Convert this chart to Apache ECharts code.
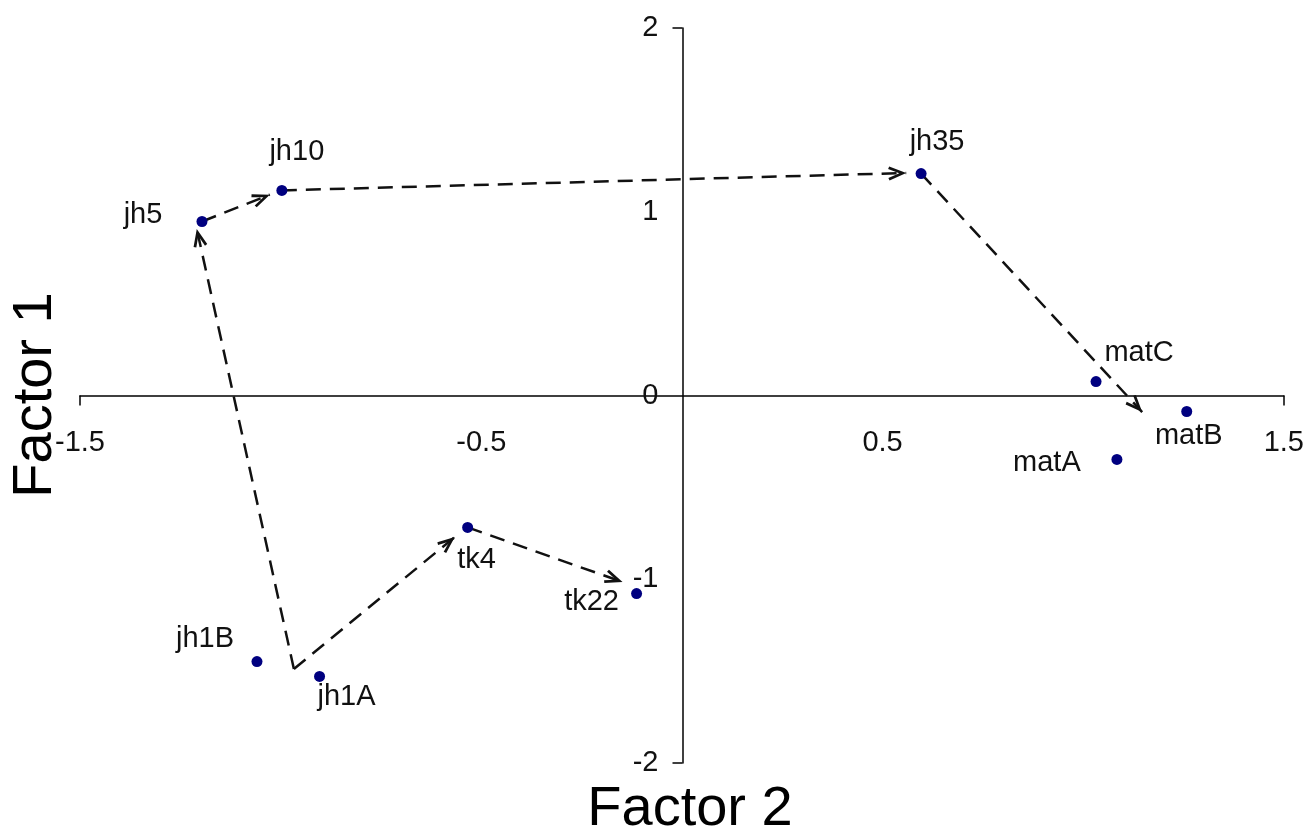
<!DOCTYPE html>
<html>
<head>
<meta charset="utf-8">
<title>Factor plot</title>
<script src="https://cdn.jsdelivr.net/npm/echarts@6/dist/echarts.min.js"></script>
<style>
  html, body { margin: 0; padding: 0; background: #fff; }
  #factorChart { width: 1307px; height: 838px; }
</style>
</head>
<body>
<div id="factorChart"></div>
<script>
// samples: Factor 2 (x) / Factor 1 (y)
const sampleNames = ['jh5', 'jh10', 'jh35', 'matC', 'matB', 'matA', 'tk4', 'tk22', 'jh1B', 'jh1A']
const factor2 = [-1.196, -0.997, 0.596, 1.032, 1.258, 1.084, -0.534, -0.113, -1.059, -0.903]
const factor1 = [0.947, 1.116, 1.208, 0.076, -0.087, -0.348, -0.718, -1.078, -1.448, -1.529]

// dashed arrows, [factor2, factor1] start -> end
const arrowFrom = [
  [-0.967, -1.488],
  [-1.196, 0.947],
  [-0.997, 1.116],
  [0.596, 1.208],
  [-0.967, -1.488],
  [-0.534, -0.718]
]
const arrowTo = [
  [-1.209, 0.906],
  [-1.027, 1.093],
  [0.559, 1.211],
  [1.147, -0.090],
  [-0.566, -0.770],
  [-0.148, -1.015]
]

const xTicks = [-1.5, 1.5]
const yTicks = [-2, 2]

// where each name sits, relative to its dot (px)
const labelShift = {
  jh5: [-59, -6],
  jh10: [15, -38],
  jh35: [16, -32],
  matC: [43, -29],
  matB: [2, 25],
  matA: [-70, 4],
  tk4: [9, 33],
  tk22: [-45, 8],
  jh1B: [-52, -23],
  jh1A: [27, 21]
}

const font = 'Liberation Sans, Arial, sans-serif'

// plot area; axes cross at 0,0 so they are pushed inward with offset
const gridBox = { left: 80, right: 22, top: 28, bottom: 75 }
const plotW = 1307 - gridBox.left - gridBox.right
const plotH = 838 - gridBox.top - gridBox.bottom
const xMin = -1.5, xMax = 1.5, yMin = -2, yMax = 2
const yAxisShift = -plotW * (0 - xMin) / (xMax - xMin)
const xAxisShift = -plotH * (0 - yMin) / (yMax - yMin)

let myChart = echarts.init(document.getElementById('factorChart'))

let points = sampleNames.map((name, i) => ({
  name: name,
  value: [factor2[i], factor1[i]],
  label: { offset: labelShift[name] }
}))

let arrows = arrowFrom.map((p, i) => [{ coord: p }, { coord: arrowTo[i] }])

let options = {
  animation: false,
  grid: gridBox,
  xAxis: {
    type: 'value',
    min: xMin,
    max: xMax,
    interval: 1,
    offset: xAxisShift,
    axisLine: { onZero: false, lineStyle: { color: '#000', width: 1.5 } },
    axisTick: { show: true, customValues: xTicks, length: 10, lineStyle: { color: '#000', width: 1.5 } },
    axisLabel: { margin: 33, fontSize: 29, color: '#111', fontFamily: font },
    splitLine: { show: false }
  },
  yAxis: {
    type: 'value',
    min: yMin,
    max: yMax,
    interval: 1,
    offset: yAxisShift,
    axisLine: { onZero: false, lineStyle: { color: '#000', width: 1.5 } },
    axisTick: { show: true, customValues: yTicks, length: 10, lineStyle: { color: '#000', width: 1.5 } },
    axisLabel: { margin: 24, fontSize: 29, color: '#111', fontFamily: font },
    splitLine: { show: false }
  },
  graphic: [
    {
      type: 'text',
      x: 690,
      y: 810,
      style: {
        text: 'Factor 2',
        font: '56px ' + font,
        fill: '#000',
        align: 'center',
        verticalAlign: 'middle'
      }
    },
    {
      type: 'text',
      x: 36,
      y: 395,
      rotation: Math.PI / 2,
      style: {
        text: 'Factor 1',
        font: '56px ' + font,
        fill: '#000',
        align: 'center',
        verticalAlign: 'middle'
      }
    }
  ],
  series: [
    {
      type: 'scatter',
      z: 3,
      symbol: 'circle',
      symbolSize: 11,
      itemStyle: { color: '#000080', opacity: 1 },
      label: {
        show: true,
        position: 'inside',
        formatter: '{b}',
        fontSize: 29,
        color: '#111',
        fontFamily: font
      },
      emphasis: { disabled: true },
      markLine: {
        silent: true,
        z: 2,
        // open arrow head
        symbol: ['none', 'path://M6,0 L12,14.6 L9.8,15.6 L6,6 L2.2,15.6 L0,14.6 Z'],
        symbolSize: [14, 18],
        symbolOffset: [0, [0, 9]],
        label: { show: false },
        lineStyle: { color: '#111', width: 2.5, type: [15, 9], opacity: 1 },
        data: arrows
      },
      data: points
    }
  ]
}
myChart.setOption(options)
</script>
</body>
</html>
